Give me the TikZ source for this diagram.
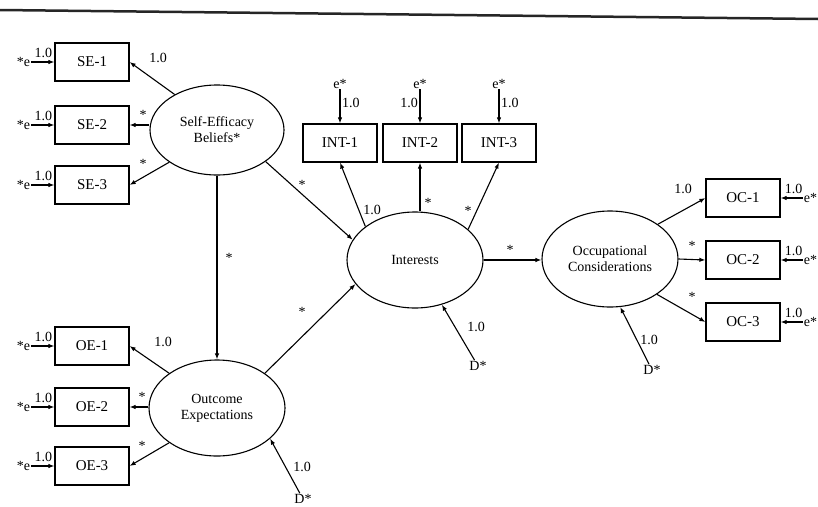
\documentclass[tikz,border=0pt]{standalone}
\usepackage{fontspec}
\setmainfont{Liberation Serif}
\usetikzlibrary{arrows.meta,shapes.geometric}
\begin{document}
\begin{tikzpicture}[x=1pt,y=-1pt,
  box/.style={draw, line width=1.2pt, minimum width=74pt, minimum height=38pt, inner sep=0pt, font=\fontsize{15}{17}\selectfont},
  lat/.style={draw, ellipse, line width=1.1pt, minimum width=136pt, minimum height=96pt, inner sep=0pt, align=center, font=\fontsize{14}{16}\selectfont},
  lab/.style={inner sep=1pt, font=\fontsize{14}{16}\selectfont},
  arr/.style={-{Latex[length=6pt,width=4.5pt]}, line width=1.1pt},
]
\useasboundingbox (0,0) rectangle (818,506);
\coordinate (topL) at (0,10);
\coordinate (topR) at (818,19);
\draw[line width=2.5pt, black!85] (topL) -- (topR);

% latent variables
\node[lat, minimum height=90pt, minimum width=134pt] (se) at (217,130) {Self-Efficacy\\Beliefs*};
\node[lat] (oe) at (217,408) {Outcome\\Expectations};
\node[lat] (int) at (415,260) {Interests};
\node[lat] (occ) at (610,259) {Occupational\\Considerations};

% indicators
\node[box] (se1) at (92,62) {SE-1};
\node[box] (se2) at (92,125) {SE-2};
\node[box] (se3) at (92,185) {SE-3};
\node[box] (oe1) at (92,346) {OE-1};
\node[box] (oe2) at (92,407) {OE-2};
\node[box] (oe3) at (92,466) {OE-3};
\node[box] (int1) at (340,143) {INT-1};
\node[box] (int2) at (420,143) {INT-2};
\node[box] (int3) at (499,143) {INT-3};
\node[box] (oc1) at (743,198) {OC-1};
\node[box] (oc2) at (743,260) {OC-2};
\node[box] (oc3) at (743,322) {OC-3};

% error terms left
\foreach \b in {se1,se2,se3,oe1,oe2,oe3}{
  \node[lab, anchor=east] (e\b) at ([xshift=-23pt]\b.west) {*e};
  \draw[arr] (e\b) -- (\b.west);
  \node[lab] (l\b) at ([xshift=-11pt,yshift=9pt]\b.west) {1.0};
}
% error terms right
\foreach \b in {oc1,oc2,oc3}{
  \node[lab, anchor=west] (e\b) at ([xshift=22pt]\b.east) {e*};
  \draw[arr] (e\b) -- (\b.east);
  \node[lab] (l\b) at ([xshift=13pt,yshift=9pt]\b.east) {1.0};
}
% error terms top
\foreach \b/\s in {int1/right,int2/left,int3/right}{
  \node[lab, anchor=south] (e\b) at ([yshift=34pt]\b.north) {e*};
  \draw[arr] (e\b) -- (\b.north);
  \node[lab, \s=1pt] (l\b) at ([yshift=20pt]\b.north) {1.0};
}

% loadings
\draw[arr] (se.140) -- (se1.east);
\draw[arr] (se2.east -| se.west) -- (se2.east);
\draw[arr] (se.214) -- (se3.east);
\node[lab] (lse1) at (158,58) {1.0};
\node[lab] (sse2) at (143,115) {*};
\node[lab] (sse3) at (143,164) {*};

\draw[arr] (oe.144) -- (oe1.east);
\draw[arr] (oe2.east -| oe.west) -- (oe2.east);
\draw[arr] (oe.216) -- (oe3.east);
\node[lab] (loe1) at (163,342) {1.0};
\node[lab] (soe2) at (142,397) {*};
\node[lab] (soe3) at (142,446) {*};

\draw[arr] (int.146) -- (int1.south);
\draw[arr] (int.north -| int2) -- (int2.south);
\draw[arr] (int.30) -- (int3.south);
\node[lab] (lint1) at (372,210) {1.0};
\node[lab] (sint2) at (428,203) {*};
\node[lab] (sint3) at (468,211) {*};

\draw[arr] (occ.36) -- (oc1.west);
\draw[arr] (occ.east) -- (oc2.west);
\draw[arr] (occ.-37) -- (oc3.west);
\node[lab] (loc1) at (683,189) {1.0};
\node[lab] (soc2) at (692,246) {*};
\node[lab] (soc3) at (692,297) {*};

% structural paths
\draw[arr] (se.south) -- (oe.north);
\node[lab] (sseoe) at (229,258) {*};
\draw[arr] (se.-33) -- (int.162);
\node[lab] (sseint) at (302,185) {*};
\draw[arr] (oe.36) -- (int.202);
\node[lab] (soeint) at (302,312) {*};
\draw[arr] (int.east) -- (int.east -| occ.west);
\node[lab] (sintocc) at (510,250) {*};

% disturbances
\node[lab] (doe) at (303,499) {D*};
\draw[arr] (doe) -- (oe.-30);
\node[lab] (ldoe) at (302,467) {1.0};
\node[lab] (dint) at (478,366) {D*};
\draw[arr] (dint) -- (int.-59);
\node[lab] (ldint) at (476,327) {1.0};
\node[lab] (docc) at (652,370) {D*};
\draw[arr] (docc) -- (occ.-78);
\node[lab] (ldocc) at (649,340) {1.0};
\end{tikzpicture}
\end{document}
